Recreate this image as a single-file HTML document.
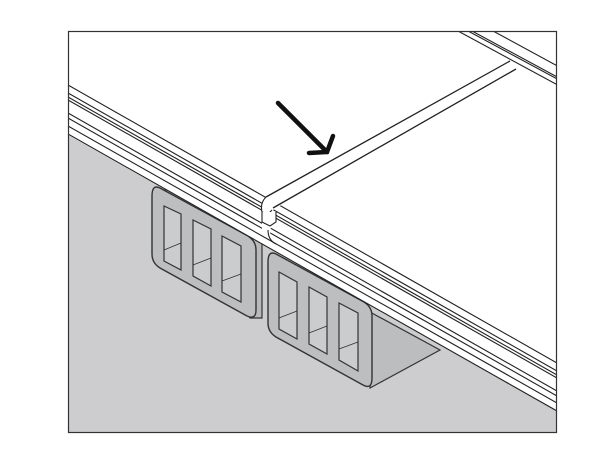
<!DOCTYPE html>
<html><head><meta charset="utf-8"><style>html,body{margin:0;padding:0;background:#fff}svg{display:block}</style></head>
<body>
<svg width="600" height="450" viewBox="0 0 600 450" xmlns="http://www.w3.org/2000/svg">
<defs><clipPath id="c"><rect x="68" y="31" width="489" height="402"/></clipPath></defs>
<rect x="0" y="0" width="600" height="450" fill="#fff"/>
<g clip-path="url(#c)">
<polygon points="68,135 557,410 557,433 68,433" fill="#cdcdcf"/>
<polygon points="160,190 200,190 262,232 262,318 250,318" fill="#b8b9bb" stroke="#333" stroke-width="1.2"/>
<path d="M160,188 L248,236 Q256,241 256,250 L256,310 Q256,320 247,316 L160,268 Q152,263 152,254 L152,196 Q152,184 160,188 Z" fill="#bdbec0" stroke="#333" stroke-width="1.4"/>
<g fill="#cbccce" stroke="#333" stroke-width="1.2">
<polygon points="164,206 181,214 181,270 164,261"/>
<polygon points="193,220 211,229 211,286 193,276"/>
<polygon points="222,236 241,246 241,302 222,292"/>
</g>
<g stroke="#333" stroke-width="0.9"><line x1="164" y1="250" x2="181" y2="243"/><line x1="193" y1="265" x2="211" y2="258"/><line x1="222" y1="281" x2="241" y2="274"/></g>
<polygon points="370,312 440,350 370,388" fill="#bcbdbf" stroke="#333" stroke-width="1.2"/>
<path d="M276,254 L364,302 Q372,307 372,316 L372,378 Q372,390 363,385 L276,337 Q268,332 268,323 L268,262 Q268,250 276,254 Z" fill="#bdbec0" stroke="#333" stroke-width="1.4"/>
<g fill="#cbccce" stroke="#333" stroke-width="1.2">
<polygon points="279,272 297,282 297,339 279,329"/>
<polygon points="309,287 327,297 327,354 309,344"/>
<polygon points="339,303 358,313 358,371 339,360"/>
</g>
<g stroke="#333" stroke-width="0.9"><line x1="279" y1="318" x2="297" y2="311"/><line x1="309" y1="333" x2="327" y2="326"/><line x1="339" y1="349" x2="358" y2="342"/></g>
<polygon points="68,31 600,31 600,360 557,365 68,85" fill="#fff"/>
<polygon points="68,85 557,365 557,410 68,135" fill="#fff"/>
<g stroke="#222" fill="none" stroke-width="1.1">
<line x1="68" y1="85" x2="557" y2="363"/>
<line x1="68" y1="93" x2="557" y2="371"/>
<line x1="68" y1="97" x2="557" y2="375"/>
<line x1="68" y1="100" x2="557" y2="378"/>
<line x1="68" y1="113" x2="557" y2="391"/>
<line x1="68" y1="118" x2="557" y2="396"/>
<line x1="68" y1="126" x2="557" y2="403"/>
<line x1="68" y1="134" x2="557" y2="411"/>
</g>
<polygon points="460,31 495,31 600,88 600,110" fill="#fff"/>
<g stroke="#222" fill="none" stroke-width="1.1">
<line x1="458" y1="31" x2="600" y2="108"/>
<line x1="468" y1="31" x2="600" y2="102"/>
<line x1="472" y1="31" x2="600" y2="100"/>
<line x1="493" y1="31" x2="600" y2="89"/>
</g>
<polygon points="262,200 510,62 516,67 273,210 270,235 262,230" fill="#fff"/>
<g stroke="#222" fill="none" stroke-width="1.3">
<line x1="266" y1="197" x2="510" y2="61"/>
<line x1="273" y1="208" x2="516" y2="69"/>
</g>
<path d="M266,197 Q260,203 262,212 L268,214 L272,210" stroke="#222" fill="#fff" stroke-width="1.1"/>
<path d="M262,212 L262,222 L270,226 L276,222 L276,212" stroke="#222" fill="#fff" stroke-width="1.1"/>
<path d="M268,230 Q268,240 276,244" stroke="#222" fill="none" stroke-width="1.1"/>
<g stroke="#111" stroke-width="4.5" stroke-linecap="round" fill="none">
<line x1="278" y1="103" x2="327" y2="152"/>
<polyline points="309,153 327,152 333,136"/>
</g>
</g>
<rect x="68.5" y="31.5" width="488" height="401" fill="none" stroke="#333" stroke-width="1.2"/>
</svg>
</body></html>
